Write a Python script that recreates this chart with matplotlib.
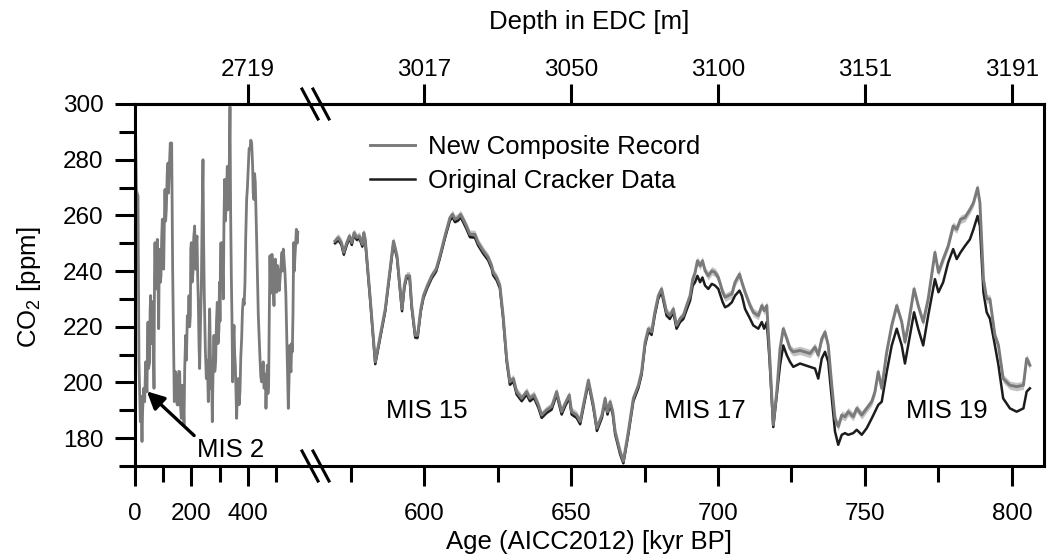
import matplotlib
matplotlib.use("Agg")
import matplotlib.pyplot as plt
from matplotlib.lines import Line2D
import numpy as np

plt.rcParams["font.family"] = ["Liberation Sans", "DejaVu Sans"]
plt.rcParams["mathtext.fontset"] = "custom"
plt.rcParams["mathtext.rm"] = "Liberation Sans"

# --- data --------------------------------------------------------------
# compressed part, 0 - ~577 kyr (composite only)
left_age = [0, 2, 5, 10.6, 14, 18.9, 21, 24.8, 27, 30.7, 34.2, 37.8, 40, 42.5,
            44, 46, 48, 51.9, 53.5, 55.5, 58, 60.2, 62, 63.7, 67.3, 69, 70.8,
            73, 75.5, 77, 79, 81.5, 83.8, 85.5, 87.3, 90, 92, 94.5, 96.8, 99,
            101.5, 104, 106.2, 108.5, 110.9, 114, 116.8, 118.5, 120.4, 123, 125,
            127, 129.8, 133.3, 139.2, 142, 146.3, 149, 152.2, 155, 158.1, 161,
            164, 167, 169.9, 173.5, 176, 179.4, 182, 185.3, 188, 191.2, 193.5,
            195.9, 197.5, 199.4, 202, 205.3, 208, 211.2, 213, 214.7, 217, 219.5,
            222, 224.2, 226.5, 228.9, 232, 234.8, 238, 240.7, 243, 245.4, 249,
            252.5, 256, 259.6, 262, 264.3, 266.5, 269, 271.5, 273.7, 276.5,
            279.6, 282.5, 285.5, 288.5, 291.4, 294, 297.3, 299, 301, 303, 306.8,
            310, 312.7, 315, 317.4, 320, 322.1, 324.5, 326.8, 329, 331.6, 334,
            336.3, 338.5, 341, 343.5, 345.7, 348, 350.5, 353, 355.2, 357.5,
            359.9, 362.5, 365.8, 368.5, 371.7, 374.5, 377.6, 380.5, 383.5,
            386.5, 389.4, 392, 395.3, 398, 401.2, 404, 407.1, 410, 413, 416.5,
            418.5, 421.2, 423.5, 425.9, 430.7, 436.6, 442.5, 445.5, 448.4,
            451.5, 454.3, 456.5, 459, 461.5, 463.7, 466, 468.4, 470.8, 473.2,
            475.5, 477.9, 480, 482.6, 485, 487.4, 489.8, 492.1, 494.5, 496.8,
            499, 501.5, 504.5, 507.4, 510.5, 513.3, 517, 520.4, 522.8, 525.1,
            528, 531, 534, 536.9, 539.8, 542.8, 545.2, 547.6, 550, 552.3, 554.7,
            557, 559.4, 561.8, 564, 566.5, 569, 571.2, 574, 576.5]
left_co2 = [300, 290, 269, 266.9, 207.4, 185.9, 195, 178.8, 190, 197.9, 193.1,
            207.4, 199, 196.7, 212, 221.7, 205, 207.4, 226, 231.2, 214, 216.9,
            229, 224, 197.9, 238, 250.2, 236, 233.6, 246, 251.4, 238, 219.3,
            240, 247.8, 236, 238.3, 252, 258.6, 246, 240.7, 258, 269.3, 258,
            262.1, 275, 278.8, 268, 272.8, 281, 286, 280, 286, 240.7, 193.1,
            204, 202.6, 192, 191.9, 204, 203.8, 192, 187.1, 199, 195.5, 184.7,
            205, 216.9, 208, 224, 220, 231.2, 220, 224, 248, 250.2, 236, 239.5,
            252, 256.2, 244, 240.7, 250, 252.6, 238, 228.8, 214, 205, 222,
            233.6, 262, 280, 250, 231.2, 212, 201.4, 208, 193.1, 214, 226.4,
            212, 197.9, 202, 185.9, 205, 216.9, 204, 207.4, 222, 228.8, 214,
            219.3, 236, 222, 250, 250.2, 240, 230, 258, 272.9, 258, 262.1, 270,
            277.6, 262, 265.7, 280, 299, 262, 238.3, 222, 200.2, 214, 220.5,
            210, 206.2, 196, 187.1, 198, 201.4, 192, 196.7, 209, 215.7, 226,
            230, 228, 235.9, 252, 265.7, 270, 277.6, 284, 283.6, 287, 286,
            277.6, 268, 265.7, 275, 271.7, 251.4, 224, 208.6, 202, 200.2, 205,
            207.4, 198, 197.9, 203, 190.7, 200, 206.2, 196, 200.2, 225, 245.5,
            232, 234.8, 246, 239.5, 232, 227.6, 240, 244.3, 236, 232.4, 242,
            239.5, 233, 237.1, 242, 246.7, 240, 247.9, 244, 239.5, 232, 218.1,
            203, 190.7, 200, 213.3, 206, 203.8, 214, 211, 225, 250.2, 240,
            245.5, 250, 255, 250, 254]

# expanded part, ~570 - 807 kyr
hi_age = [569.7, 570.8, 571.9, 572.7, 573.7, 574.6, 575.4, 576.2, 577.1, 578.0,
          579.0, 579.5, 580.0, 581.7, 583.4, 585.1, 586.8, 588.3, 589.6, 590.8,
          592.5, 593.3, 594.0, 595.1, 595.8, 597.0, 597.8, 598.9, 599.8, 601.1,
          602.6, 604.1, 605.4, 607.1, 608.8, 609.7, 610.5, 611.6, 612.4, 613.3,
          614.4, 615.6, 617.3, 618.4, 620.1, 621.8, 623.0, 623.5, 624.7, 625.8,
          626.9, 628.1, 629.2, 630.4, 631.5, 633.2, 634.9, 636.0, 637.4, 638.9,
          640.0, 641.7, 643.4, 645.1, 646.8, 648.0, 649.4, 650.2, 651.9, 653.1,
          654.2, 655.9, 657.6, 658.8, 660.5, 661.6, 662.4, 663.3, 664.2, 665.0,
          666.7, 667.8, 669.5, 671.2, 672.9, 674.0, 675.2, 676.3, 677.4, 678.5,
          679.7, 680.8, 682.5, 683.6, 684.8, 685.9, 687.1, 688.2, 689.3, 690.5,
          691.4, 692.2, 693.0, 693.9, 694.7, 695.6, 696.7, 697.9, 699.0, 700.1,
          701.6, 702.4, 703.5, 704.7, 705.8, 707.3, 708.1, 709.2, 710.9, 712.0,
          713.7, 714.9, 715.7, 716.6, 717.5, 718.8, 720.0, 721.1, 722.2, 723.4,
          724.5, 725.6, 727.9, 731.3, 733.0, 734.1, 735.3, 736.4, 737.5, 738.7,
          739.8, 740.9, 742.1, 743.2, 744.3, 746.0, 747.2, 748.9, 750.6, 752.3,
          753.4, 754.5, 755.7, 757.4, 759.1, 760.8, 762.5, 763.6, 764.7, 766.7,
          768.1, 769.8, 771.5, 773.8, 775.0, 776.6, 778.3, 780.0, 781.2, 782.5,
          784.0, 785.7, 786.9, 788.3, 789.1, 790.3, 791.4, 792.5, 794.2, 795.4,
          797.0, 799.3, 801.6, 803.9, 805.0, 806.1]
comp_co2 = [250.8, 252.0, 250.2, 246.7, 250.2, 252.6, 250.2, 253.8, 252.0, 252.6,
            249.6, 253.8, 251.4, 230.0, 207.4, 216.9, 226.4, 239.5, 250.8, 245.5,
            226.4, 234.8, 238.3, 238.3, 227.6, 216.9, 216.9, 226.4, 231.2, 234.8,
            238.3, 240.7, 245.5, 252.6, 259.2, 260.4, 258.6, 259.2, 260.4, 258.6,
            256.2, 253.2, 253.2, 250.2, 247.3, 244.9, 241.9, 239.5, 237.7, 234.8,
            224.0, 208.6, 200.2, 201.4, 196.7, 194.3, 196.7, 194.3, 195.5, 191.9,
            188.3, 190.1, 191.3, 196.7, 189.5, 192.5, 195.5, 189.5, 188.3, 186.0,
            191.9, 200.8, 191.9, 183.6, 188.3, 194.3, 189.5, 193.1, 189.5, 182.4,
            175.2, 171.7, 182.4, 194.3, 199.0, 203.8, 214.5, 219.3, 218.1, 225.2,
            231.2, 233.6, 225.2, 224.0, 226.4, 220.5, 222.9, 224.0, 227.6, 231.2,
            237.1, 239.5, 243.7, 241.9, 243.7, 240.1, 238.3, 240.1, 239.5, 237.7,
            232.4, 230.6, 231.2, 231.8, 236.0, 238.9, 236.0, 232.4, 227.6, 225.2,
            224.0, 227.6, 225.8, 227.6, 211.0, 184.8, 196.7, 212.1, 219.3, 215.7,
            212.1, 211.0, 211.5, 210.4, 212.7, 209.8, 215.7, 218.1, 213.3, 199.0,
            187.1, 184.2, 188.3, 187.7, 189.5, 187.7, 190.7, 188.3, 190.7, 193.1,
            196.7, 203.8, 197.9, 211.0, 220.5, 227.6, 221.7, 214.5, 220.5, 233.6,
            227.6, 221.7, 230.0, 246.7, 239.5, 244.3, 249.0, 256.2, 255.0, 258.6,
            259.2, 262.1, 264.5, 269.9, 264.5, 237.1, 230.0, 230.0, 216.9, 213.3,
            201.4, 199.0, 198.5, 199.0, 208.6, 206.2]
comp_sigma = 1.5
crack_co2 = [250.0, 251.2, 249.4, 245.9, 249.4, 251.8, 249.4, 253.0, 251.2, 251.8,
             248.8, 253.0, 250.6, 229.2, 206.6, 216.1, 225.6, 238.7, 250.0, 244.7,
             225.6, 234.0, 237.5, 237.5, 226.8, 216.1, 216.1, 225.6, 230.4, 234.0,
             237.5, 239.9, 244.7, 251.8, 258.2, 259.4, 257.6, 258.2, 259.4, 257.6,
             255.2, 252.2, 252.0, 249.2, 246.3, 243.9, 240.9, 238.5, 236.7, 233.8,
             223.0, 207.6, 199.2, 200.4, 195.7, 193.3, 195.7, 193.3, 194.5, 190.9,
             187.3, 189.1, 190.3, 195.7, 188.5, 191.5, 194.5, 188.5, 187.3, 185.0,
             190.9, 199.8, 190.9, 182.6, 187.3, 193.3, 188.5, 192.1, 188.5, 181.4,
             174.2, 171.0, 181.4, 193.3, 198.0, 202.8, 213.5, 218.3, 217.1, 224.2,
             230.2, 232.4, 224.0, 222.8, 225.2, 219.3, 221.7, 222.8, 226.0, 229.4,
             234.8, 236.0, 238.3, 236.0, 237.7, 234.8, 233.6, 235.4, 234.8, 233.6,
             228.8, 227.0, 227.6, 228.8, 231.2, 233.0, 231.2, 226.4, 222.9, 220.5,
             219.3, 221.7, 219.3, 221.7, 208.6, 184.0, 195.5, 206.2, 213.3, 209.8,
             207.4, 205.6, 206.8, 205.6, 205.0, 201.4, 208.6, 211.0, 207.4, 194.3,
             182.4, 177.6, 181.2, 181.8, 181.2, 181.8, 183.0, 181.2, 183.6, 187.1,
             189.5, 191.9, 193.1, 203.8, 213.3, 219.3, 213.3, 206.8, 213.3, 225.2,
             219.3, 213.3, 224.0, 237.1, 232.4, 236.0, 243.1, 247.9, 244.3, 246.7,
             249.0, 251.4, 255.0, 259.8, 256.2, 232.4, 225.2, 222.9, 213.3, 206.2,
             194.3, 190.7, 189.5, 190.7, 196.7, 197.9]

depth_age_left = [400]
depth_lab_left = ["2719"]
depth_age_right = [600, 650, 700, 750, 800]
depth_lab_right = ["3017", "3050", "3100", "3151", "3191"]

# --- figure -----------------------------------------------------------
W, H = 1055, 560
fig = plt.figure(figsize=(W / 100, H / 100), dpi=100)

x0, xb, x1 = 135, 320, 1044       # pixel columns: left edge, break, right edge
ytop, ybot = 104, 466
ax1 = fig.add_axes([x0 / W, 1 - ybot / H, (xb - x0) / W, (ybot - ytop) / H])
ax2 = fig.add_axes([xb / W, 1 - ybot / H, (x1 - xb) / W, (ybot - ytop) / H])

grey = "#7a7a7a"
band = "#c4c4c4"
dark = "#1c1c1c"
fs_tick = 17.5
fs = 18.5
lw_sp = 2.2

ax1.plot(left_age, left_co2, color=grey, lw=2.0)

comp = np.array(comp_co2)
ax2.fill_between(hi_age, comp - comp_sigma, comp + comp_sigma,
                 color=band, lw=0, zorder=1)
l_crack, = ax2.plot(hi_age, crack_co2, color=dark, lw=1.8, zorder=2)
l_comp, = ax2.plot(hi_age, comp_co2, color=grey, lw=2.1, zorder=3)

ax1.set_xlim(0, 655)
ax2.set_xlim(564.6, 810.9)
for ax in (ax1, ax2):
    ax.set_ylim(170, 300)
    for s in ax.spines.values():
        s.set_linewidth(lw_sp)
    ax.tick_params(which="major", length=14.5, width=lw_sp,
                   labelsize=fs_tick, pad=8)
    ax.tick_params(which="minor", length=11.5, width=lw_sp)
    ax.tick_params(axis="x", which="major", pad=12)
ax1.spines["right"].set_visible(False)
ax2.spines["left"].set_visible(False)
ax2.tick_params(axis="y", which="both", left=False, labelleft=False)

ax1.set_xticks([0, 200, 400])
ax1.set_xticks([100, 300, 500], minor=True)
ax1.set_yticks(range(180, 301, 20))
ax1.set_yticks(range(170, 301, 10), minor=True)
ax2.set_xticks([600, 650, 700, 750, 800])
ax2.set_xticks([575, 625, 675, 725, 775], minor=True)

# depth axis on top
for ax, pos, lab in ((ax1, depth_age_left, depth_lab_left),
                     (ax2, depth_age_right, depth_lab_right)):
    sec = ax.secondary_xaxis("top")
    sec.set_xticks(pos, labels=lab)
    sec.tick_params(length=14.5, width=lw_sp, labelsize=fs_tick, pad=2)
    sec.spines["top"].set_linewidth(lw_sp)

# axis break marks
for yb in (ytop, ybot):
    for cx in (310, 321):
        fig.add_artist(Line2D([(cx - 8) / W, (cx + 8) / W],
                              [1 - (yb - 15) / H, 1 - (yb + 15) / H],
                              color="black", lw=lw_sp))

fig.text((x0 + x1) / 2 / W, 1 - 22 / H, "Depth in EDC [m]",
         ha="center", va="center", fontsize=fs)
fig.text((x0 + x1) / 2 / W, 1 - 542 / H, "Age (AICC2012) [kyr BP]",
         ha="center", va="center", fontsize=fs)
fig.text(29 / W, 1 - 287 / H, r"CO$_\mathregular{2}$ [ppm]", rotation=90,
         ha="center", va="center", fontsize=fs)

ax1.annotate("MIS 2", xy=(42, 196.8), xytext=(338, 175.7),
             ha="center", va="center", fontsize=fs,
             arrowprops=dict(arrowstyle="-|>", color="black", lw=2.4,
                             relpos=(0, 1), shrinkA=0, shrinkB=0,
                             mutation_scale=26))
ax2.text(601, 189.6, "MIS 15", ha="center", va="center", fontsize=fs)
ax2.text(695.5, 189.6, "MIS 17", ha="center", va="center", fontsize=fs)
ax2.text(778, 189.6, "MIS 19", ha="center", va="center", fontsize=fs)

ax2.legend([l_comp, l_crack], ["New Composite Record", "Original Cracker Data"],
           loc="upper left", bbox_to_anchor=(0.069, 0.915), frameon=False,
           fontsize=fs, handlelength=1.75, handletextpad=0.5, borderpad=0,
           borderaxespad=0, labelspacing=0.41)

fig.savefig("out.png", dpi=100)
